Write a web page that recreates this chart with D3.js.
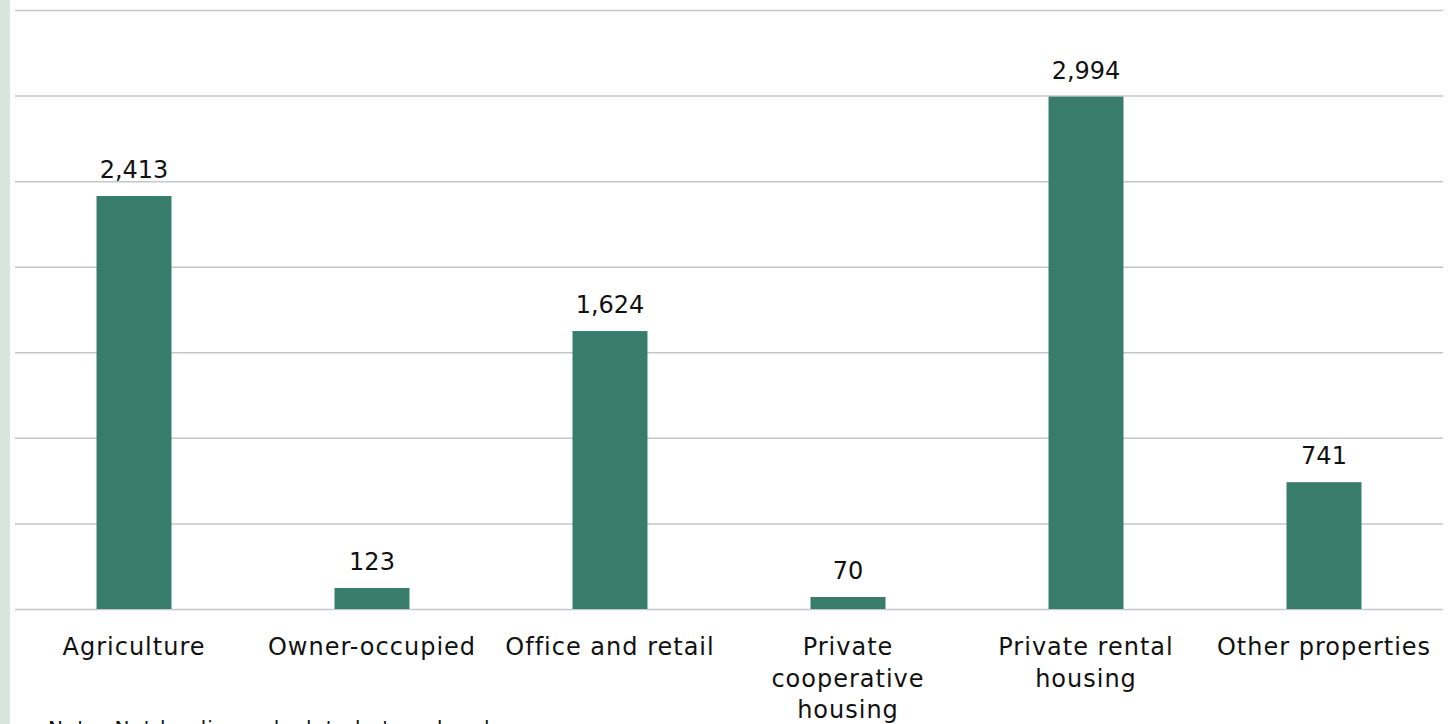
<!DOCTYPE html>
<html>
<head>
<meta charset="utf-8">
<script src="https://cdn.jsdelivr.net/npm/d3@7"></script>
<style>
  html, body { margin: 0; padding: 0; background: #fff; overflow: hidden; }
  svg { display: block; }
</style>
</head>
<body>
<script>
const [W, H] = [1455, 724];

// data
const categories = [
    'Agriculture',
    'Owner-occupied',
    'Office and retail',
    'Private cooperative housing',
    'Private rental housing',
    'Other properties'
];
const categoryLines = [
    ['Agriculture'],
    ['Owner-occupied'],
    ['Office and retail'],
    ['Private', 'cooperative', 'housing'],
    ['Private rental', 'housing'],
    ['Other properties']
];
const values = [2413, 123, 1624, 70, 2994, 741];
const yTicks = [0, 500, 1000, 1500, 2000, 2500, 3000, 3500];
const noteText = 'Note: Net lending calculated at each value';

const FONT = "'DejaVu Sans', sans-serif";

const svg = d3.select('body').append('svg')
    .attr('width', W).attr('height', H);

// side strip
svg.append('rect')
    .attr('x', 0).attr('y', 0)
    .attr('width', 10).attr('height', H)
    .attr('fill', '#d7e5df');

// scales
const xScale = d3.scaleBand()
    .domain(categories)
    .range([15, 1443])
    .paddingInner(0.685)
    .paddingOuter(0.3425);

const yScale = d3.scaleLinear()
    .domain([0, 3500])
    .range([609, 10]);

// gridlines
const grid = d3.axisLeft(yScale)
    .tickValues(yTicks)
    .tickSize(-(1443 - 15))
    .tickFormat('');

svg.append('g')
    .attr('transform', 'translate(15,0)')
    .call(grid)
    .call(g => g.select('.domain').remove())
    .call(g => g.selectAll('line')
        .attr('stroke', '#c6c5cb')
        .attr('stroke-width', 1.5));

// bars
svg.selectAll('rect.bar')
    .data(values).enter()
    .append('rect')
    .attr('class', 'bar')
    .attr('x', (d, i) => xScale(categories[i]))
    .attr('y', d => yScale(d))
    .attr('width', xScale.bandwidth())
    .attr('height', d => yScale(0) - yScale(d))
    .attr('fill', '#387c6b');

// value labels
const fmt = d3.format(',');
svg.selectAll('text.value')
    .data(values).enter()
    .append('text')
    .attr('class', 'value')
    .attr('x', (d, i) => xScale(categories[i]) + xScale.bandwidth() / 2)
    .attr('y', d => yScale(d) - 18)
    .attr('text-anchor', 'middle')
    .style('font-family', FONT)
    .style('font-size', '24px')
    .attr('fill', '#111')
    .text(d => fmt(d));

// category labels (manual line breaks as in the original)
const catLabels = svg.selectAll('text.cat')
    .data(categories).enter()
    .append('text')
    .attr('class', 'cat')
    .attr('x', d => xScale(d) + xScale.bandwidth() / 2)
    .attr('y', 655)
    .attr('text-anchor', 'middle')
    .style('font-family', FONT)
    .style('font-size', '24px')
    .style('letter-spacing', '1px')
    .attr('fill', '#111');

catLabels.each(function(d, i) {
    const t = d3.select(this);
    categoryLines[i].forEach((line, j) => {
        t.append('tspan')
            .attr('x', xScale(d) + xScale.bandwidth() / 2)
            .attr('dy', j === 0 ? 0 : 31.5)
            .text(line);
    });
});

// note (cut off at the bottom edge, as in the original)
svg.append('text')
    .attr('x', 48)
    .attr('y', 735)
    .style('font-family', FONT)
    .style('font-size', '20px')
    .style('letter-spacing', '1px')
    .attr('fill', '#111')
    .text(noteText);
</script>
</body>
</html>
